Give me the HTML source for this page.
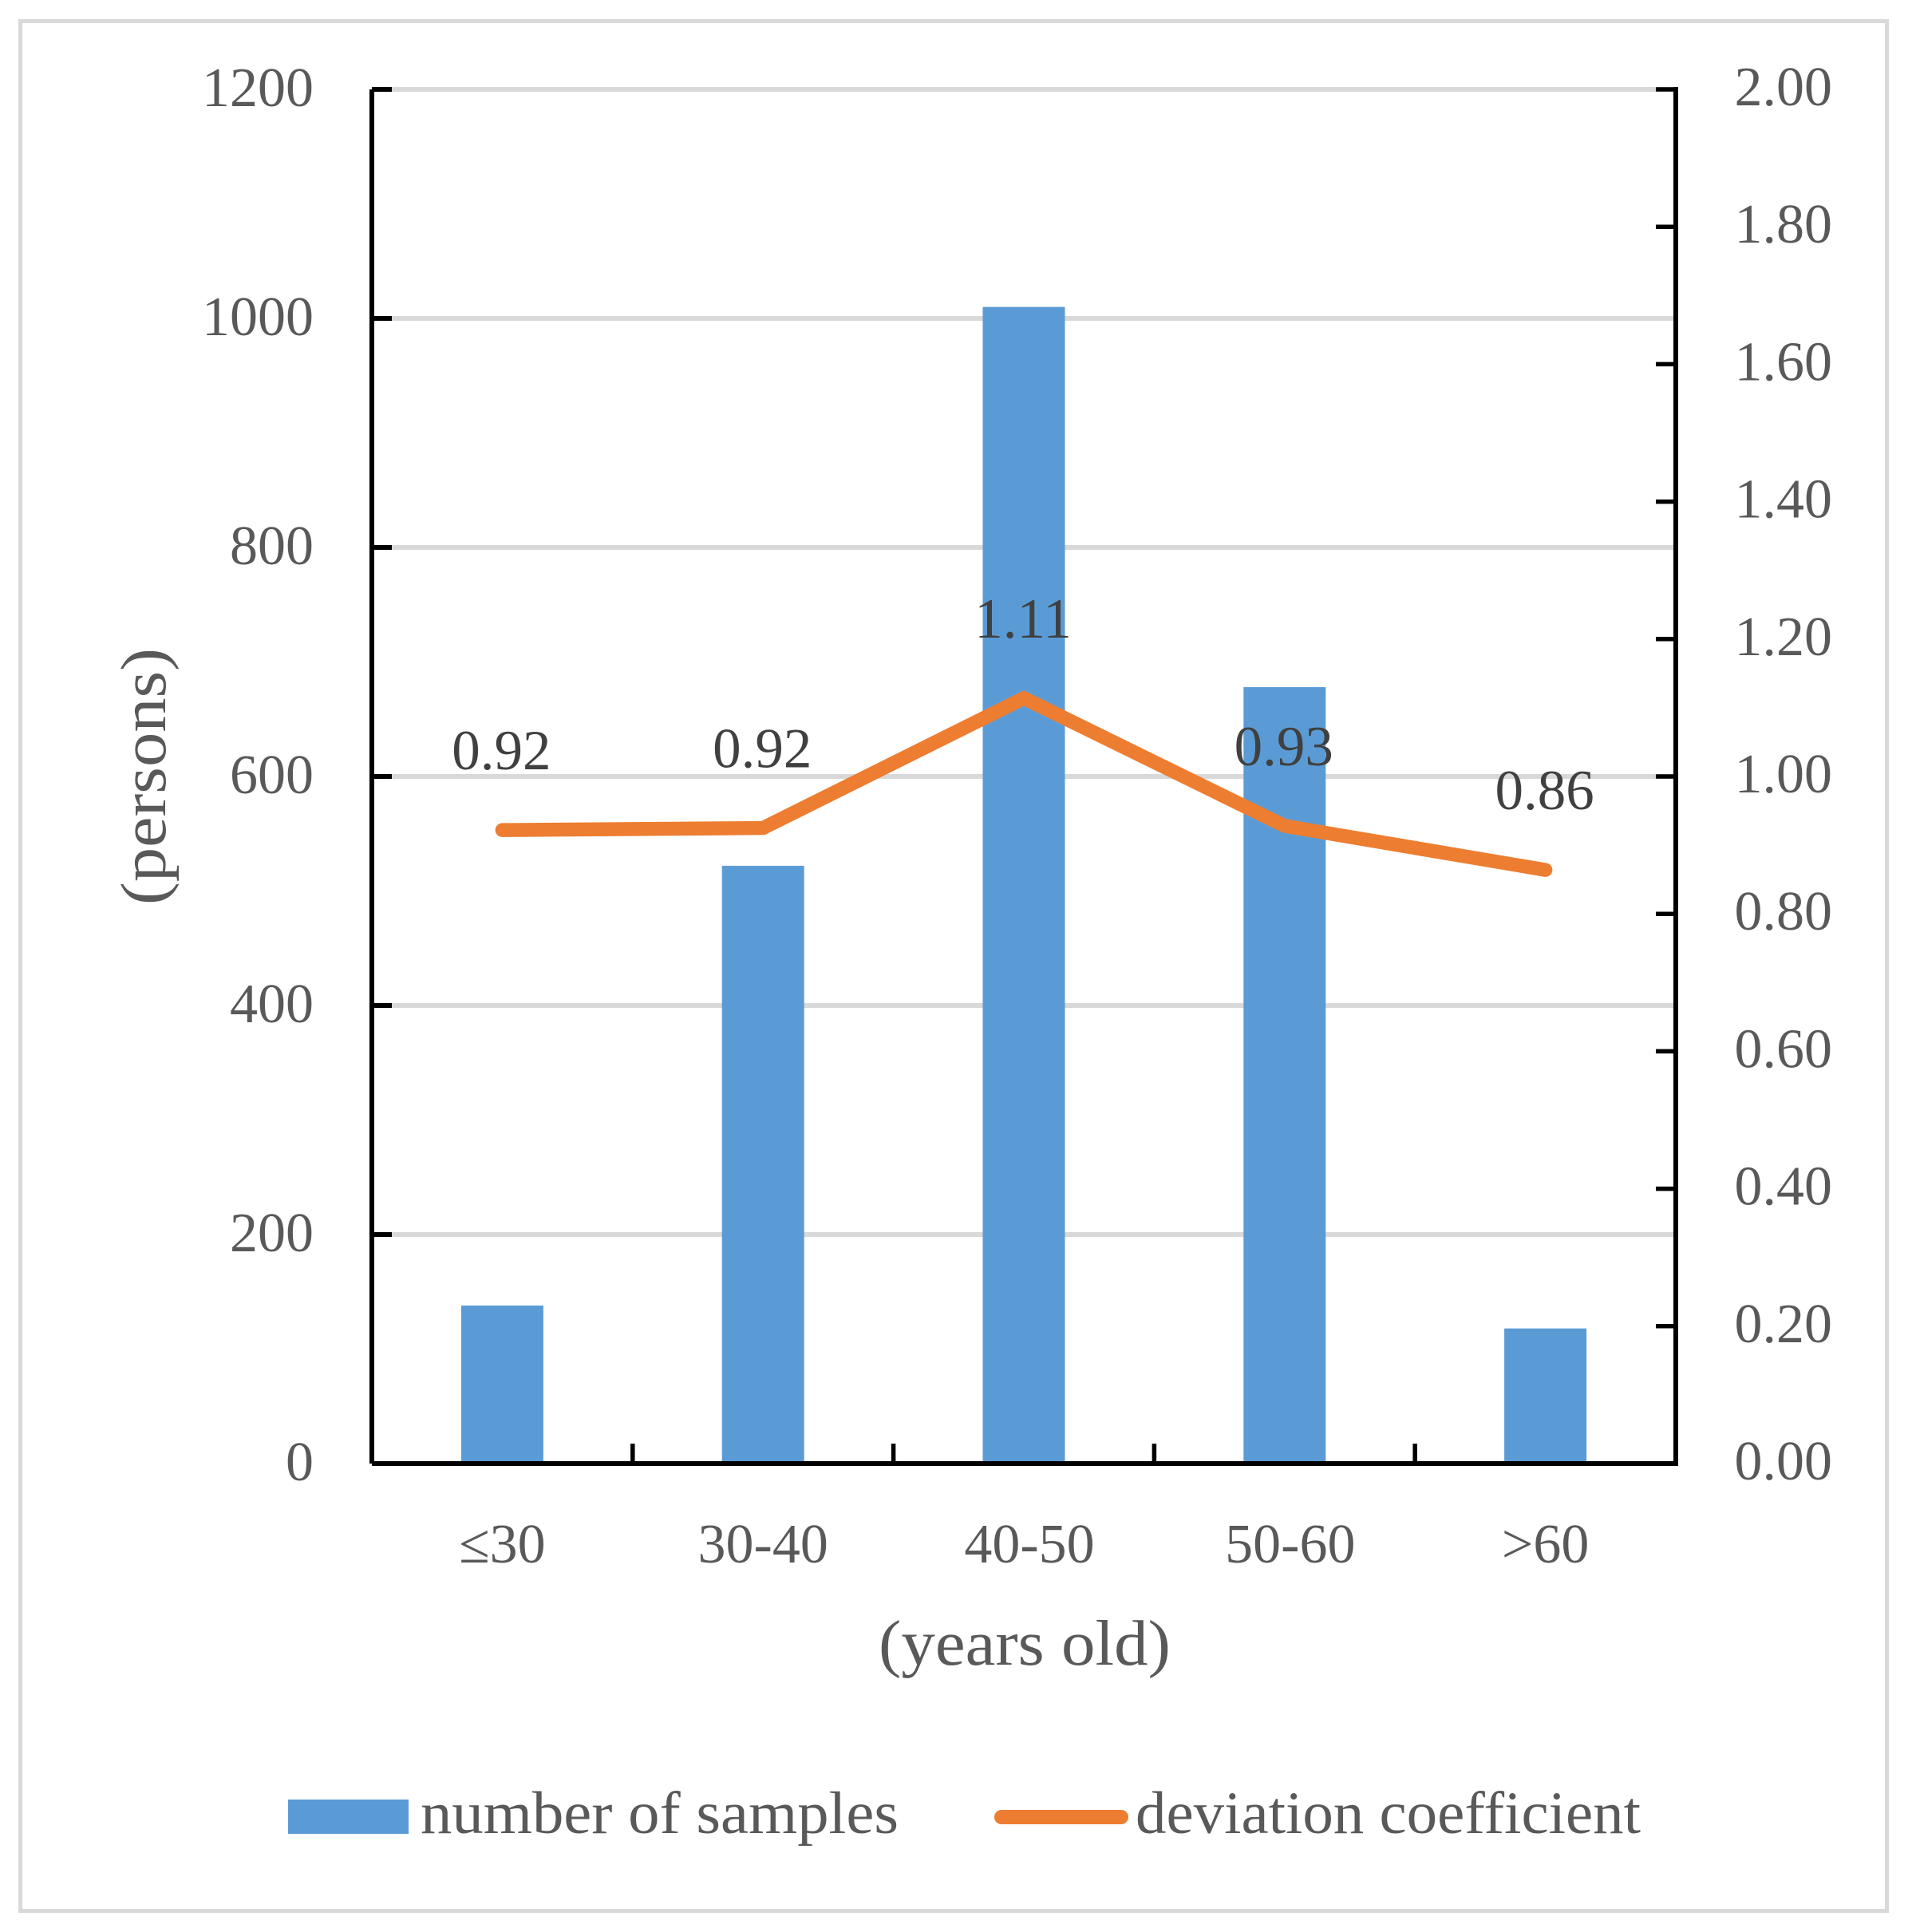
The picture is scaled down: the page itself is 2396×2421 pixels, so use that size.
<!DOCTYPE html>
<html lang="en">
<head>
<meta charset="utf-8">
<title>Number of samples and deviation coefficient by age</title>
<style>
html,body{margin:0;padding:0;background:#fff;}
svg{display:block;}
text{font-family:"Liberation Serif",serif;fill:#595959;}
</style>
</head>
<body>
<svg id="chart" xmlns="http://www.w3.org/2000/svg" width="2396" height="2421" viewBox="0 0 2396 2421"></svg>
<script>
const categories = ["≤30", "30-40", "40-50", "50-60", ">60"];
const sampleCounts = [138, 522, 1010, 678, 118];
const deviationValues = [0.922, 0.925, 1.114, 0.928, 0.864];
const deviationLabels = ["0.92", "0.92", "1.11", "0.93", "0.86"];
const leftTicks = [0, 200, 400, 600, 800, 1000, 1200];
const rightTicks = [0, 0.2, 0.4, 0.6, 0.8, 1.0, 1.2, 1.4, 1.6, 1.8, 2.0];

const NS = "http://www.w3.org/2000/svg";
const svg = document.getElementById("chart");
const plot = {left: 466, right: 2100, top: 112, bottom: 1834};
const leftMax = 1200;
const rightMax = 2;
const bandWidth = (plot.right - plot.left) / categories.length;
const barWidth = 103;
const fontSize = 70;

function xBand(i) { return plot.left + bandWidth * i; }
function xCenter(i) { return xBand(i) + bandWidth / 2; }
function yLeft(v) { return plot.bottom - (v / leftMax) * (plot.bottom - plot.top); }
function yRight(v) { return plot.bottom - (v / rightMax) * (plot.bottom - plot.top); }
function categoryLabelX(i) { return xCenter(i) + ((i === 2 || i === 3) ? 7 : 0); }

function make(tag, attrs, text) {
  const el = document.createElementNS(NS, tag);
  for (const k in attrs) el.setAttribute(k, attrs[k]);
  if (text !== undefined) el.textContent = text;
  svg.appendChild(el);
  return el;
}
let el;

el = make("rect", {x: 25.5, y: 26.5, width: 2339, height: 2368, fill: "#fff", stroke: "#d9d9d9", "stroke-width": 5});



leftTicks.forEach(function (t) {
  if (t === 0) return;
  const g = make("line", {x1: plot.left, x2: plot.right, y1: yLeft(t), y2: yLeft(t), stroke: "#d9d9d9", "stroke-width": 6});
  
  
});

sampleCounts.forEach(function (v, i) {
  const b = make("rect", {x: xCenter(i) - barWidth / 2, y: yLeft(v), width: barWidth, height: plot.bottom - yLeft(v), fill: "#5b9bd5"});
  
  
});

el = make("line", {x1: plot.left, x2: plot.left, y1: plot.top, y2: plot.bottom, stroke: "#000", "stroke-width": 6});



el = make("line", {x1: plot.right, x2: plot.right, y1: plot.top - 3, y2: plot.bottom + 3, stroke: "#000", "stroke-width": 6});



el = make("line", {x1: plot.left, x2: plot.right, y1: plot.bottom, y2: plot.bottom, stroke: "#000", "stroke-width": 6});



leftTicks.forEach(function (t) {
  const m = make("line", {x1: plot.left, x2: plot.left + 25, y1: yLeft(t), y2: yLeft(t), stroke: "#000", "stroke-width": 6});
  
  
  const l = make("text", {x: 393, y: yLeft(t) + 21, "text-anchor": "end", "font-size": fontSize}, String(t));
  
  
});

rightTicks.forEach(function (t) {
  const m = make("line", {x1: plot.right - 25, x2: plot.right, y1: yRight(t), y2: yRight(t), stroke: "#000", "stroke-width": 5.5});
  
  
  const l = make("text", {x: 2296, y: yRight(t) + 20, "text-anchor": "end", "font-size": fontSize}, t.toFixed(2));
  
  
});

categories.forEach(function (c, i) {
  if (i > 0) {
    const m = make("line", {x1: xBand(i), x2: xBand(i), y1: plot.bottom - 25, y2: plot.bottom, stroke: "#000", "stroke-width": 5.5});
    
    
  }
  const l = make("text", {x: categoryLabelX(i), y: 1958, "text-anchor": "middle", "font-size": fontSize}, c);
  
  
});

const linePoints = deviationValues.map(function (v, i) { return xCenter(i) + "," + yRight(v); }).join(" ");
el = make("polyline", {points: linePoints, fill: "none", stroke: "#ed7d31", "stroke-width": 17.5, "stroke-linecap": "round", "stroke-linejoin": "miter"});



deviationValues.forEach(function (v, i) {
  const l = make("text", {x: xCenter(i) - 1, y: yRight(v) - 76, "text-anchor": "middle", "font-size": 71, style: "fill:#404040"}, deviationLabels[i]);
  
  
});

el = make("text", {x: 1284, y: 2086, "text-anchor": "middle", "font-size": 81, textLength: 366, lengthAdjust: "spacingAndGlyphs"}, "(years old)");



el = make("text", {x: 0, y: 0, "text-anchor": "middle", "font-size": 81, textLength: 322, lengthAdjust: "spacingAndGlyphs", transform: "translate(207 973) rotate(-90)"}, "(persons)");



el = make("rect", {x: 361, y: 2255, width: 151, height: 43, fill: "#5b9bd5"});



el = make("text", {x: 527, y: 2297, "font-size": 75, textLength: 599, lengthAdjust: "spacingAndGlyphs"}, "number of samples");



el = make("line", {x1: 1255, x2: 1405, y1: 2277, y2: 2277, stroke: "#ed7d31", "stroke-width": 18, "stroke-linecap": "round"});



el = make("text", {x: 1423, y: 2297, "font-size": 75, textLength: 633, lengthAdjust: "spacingAndGlyphs"}, "deviation coefficient");


</script>
</body>
</html>
